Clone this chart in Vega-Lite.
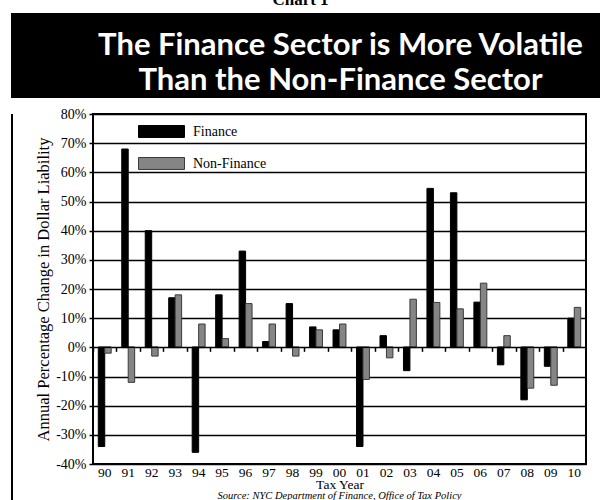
{
  "$schema": "https://vega.github.io/schema/vega-lite/v6.json",
  "padding": {"left": 11, "top": -9, "right": 0, "bottom": 0},
  "background": "white",
  "spacing": 8,
  "title": {"text": "Chart 1", "font": "Liberation Serif", "fontWeight": "bold", "fontSize": 17, "color": "black", "anchor": "middle", "offset": 4, "dx": -5},
  "config": {"view": {"stroke": null}, "font": "Liberation Serif"},
  "resolve": {"legend": {"color": "independent", "stroke": "independent"}},
  "datasets": {
    "bars": [
      {"year": "90", "series": "Finance", "value": -34},
      {"year": "91", "series": "Finance", "value": 68},
      {"year": "92", "series": "Finance", "value": 40},
      {"year": "93", "series": "Finance", "value": 17},
      {"year": "94", "series": "Finance", "value": -36},
      {"year": "95", "series": "Finance", "value": 18},
      {"year": "96", "series": "Finance", "value": 33},
      {"year": "97", "series": "Finance", "value": 2},
      {"year": "98", "series": "Finance", "value": 15},
      {"year": "99", "series": "Finance", "value": 7},
      {"year": "00", "series": "Finance", "value": 6},
      {"year": "01", "series": "Finance", "value": -34},
      {"year": "02", "series": "Finance", "value": 4},
      {"year": "03", "series": "Finance", "value": -8},
      {"year": "04", "series": "Finance", "value": 54.5},
      {"year": "05", "series": "Finance", "value": 53},
      {"year": "06", "series": "Finance", "value": 15.5},
      {"year": "07", "series": "Finance", "value": -6},
      {"year": "08", "series": "Finance", "value": -18},
      {"year": "09", "series": "Finance", "value": -6.5},
      {"year": "10", "series": "Finance", "value": 10},
      {"year": "90", "series": "Non-Finance", "value": -2},
      {"year": "91", "series": "Non-Finance", "value": -12},
      {"year": "92", "series": "Non-Finance", "value": -3},
      {"year": "93", "series": "Non-Finance", "value": 18},
      {"year": "94", "series": "Non-Finance", "value": 8},
      {"year": "95", "series": "Non-Finance", "value": 3},
      {"year": "96", "series": "Non-Finance", "value": 15},
      {"year": "97", "series": "Non-Finance", "value": 8},
      {"year": "98", "series": "Non-Finance", "value": -3},
      {"year": "99", "series": "Non-Finance", "value": 6},
      {"year": "00", "series": "Non-Finance", "value": 8},
      {"year": "01", "series": "Non-Finance", "value": -11},
      {"year": "02", "series": "Non-Finance", "value": -3.6},
      {"year": "03", "series": "Non-Finance", "value": 16.5},
      {"year": "04", "series": "Non-Finance", "value": 15.4},
      {"year": "05", "series": "Non-Finance", "value": 13.2},
      {"year": "06", "series": "Non-Finance", "value": 22},
      {"year": "07", "series": "Non-Finance", "value": 4},
      {"year": "08", "series": "Non-Finance", "value": -14},
      {"year": "09", "series": "Non-Finance", "value": -13},
      {"year": "10", "series": "Non-Finance", "value": 13.7}
    ]
  },
  "vconcat": [
    {
      "width": 589,
      "height": 85,
      "view": {"fill": "black", "stroke": null},
      "data": {"values": [
        {"line": 1, "text": "The Finance Sector is More Volatile"},
        {"line": 2, "text": "Than the Non-Finance Sector"}
      ]},
      "mark": {"type": "text", "color": "white", "font": "Lato", "fontWeight": "bold", "fontSize": 31, "dx": 35, "dy": 8, "baseline": "middle", "align": "center"},
      "encoding": {
        "y": {"field": "line", "type": "ordinal", "axis": null, "scale": {"padding": 0.7}},
        "text": {"field": "text"}
      }
    },
    {
      "spacing": 21,
      "resolve": {"legend": {"color": "independent", "stroke": "independent"}},
      "hconcat": [
        {
          "width": 2,
          "height": 395,
          "view": {"fill": "black", "stroke": null},
          "data": {"values": []},
          "mark": "point",
          "encoding": {}
        },
        {
          "width": 493,
          "height": 350,
          "data": {"name": "bars"},
          "view": {"stroke": "black", "strokeWidth": 2},
          "title": {"text": "Source: NYC Department of Finance, Office of Tax Policy", "orient": "bottom", "anchor": "middle", "font": "Liberation Serif", "fontStyle": "italic", "fontWeight": "normal", "fontSize": 10.5, "color": "black", "offset": 0},
          "layer": [
            {
              "mark": {"type": "bar", "strokeWidth": 1},
              "encoding": {
                "x": {
                  "field": "year", "type": "ordinal",
                  "sort": ["90","91","92","93","94","95","96","97","98","99","00","01","02","03","04","05","06","07","08","09","10"],
                  "scale": {"paddingInner": 0.45, "paddingOuter": 0.225},
                  "axis": {"title": "Tax Year", "labelAngle": 0, "ticks": false, "domain": false, "grid": false, "labelFont": "Liberation Serif", "labelFontSize": 13.5, "labelColor": "black", "labelPadding": 1, "titleFont": "Liberation Serif", "titleFontSize": 13.5, "titleFontWeight": "normal", "titleColor": "black", "titlePadding": -1}
                },
                "xOffset": {"field": "series", "type": "nominal", "sort": ["Finance", "Non-Finance"], "scale": {"paddingInner": 0, "paddingOuter": 0}},
                "y": {
                  "field": "value", "type": "quantitative",
                  "scale": {"domain": [-40, 80], "nice": false, "zero": false},
                  "axis": {"values": [-40,-30,-20,-10,0,10,20,30,40,50,60,70,80], "tickCount": 13, "labelOverlap": false, "labelExpr": "datum.value + '%'", "title": "Annual Percentage Change in Dollar Liability", "titleFont": "Liberation Serif", "titleFontSize": 16.5, "titleFontWeight": "normal", "titleColor": "black", "titlePadding": 4, "labelFont": "Liberation Serif", "labelFontSize": 14, "labelColor": "black", "labelPadding": 3, "tickSize": 4, "tickColor": "black", "tickWidth": 1.5, "domain": false, "grid": true, "gridColor": "black", "gridWidth": 1.5, "gridOpacity": 1}
                },
                "color": {
                  "field": "series", "type": "nominal",
                  "scale": {"domain": ["Finance", "Non-Finance"], "range": ["#000000", "#858585"]},
                  "legend": {"title": null, "orient": "none", "legendX": 45, "legendY": -6, "symbolType": "M-1,-0.26H1V0.26H-1Z", "symbolSize": 2116, "symbolStrokeWidth": 1, "labelFont": "Liberation Serif", "labelFontSize": 14, "labelColor": "black", "labelOffset": 8, "rowPadding": -28, "padding": 0}
                },
                "stroke": {
                  "field": "series", "type": "nominal",
                  "scale": {"domain": ["Finance", "Non-Finance"], "range": ["#000000", "#3a3a3a"]},
                  "legend": {"title": null, "orient": "none", "legendX": 45, "legendY": -6, "symbolType": "M-1,-0.26H1V0.26H-1Z", "symbolSize": 2116, "symbolStrokeWidth": 1, "labelFont": "Liberation Serif", "labelFontSize": 14, "labelColor": "black", "labelOffset": 8, "rowPadding": -28, "padding": 0}
                }
              }
            },
            {
              "transform": [{"filter": "datum.series === 'Finance'"}],
              "mark": {"type": "rule", "color": "black", "strokeWidth": 1.5},
              "encoding": {
                "x": {
                  "field": "year", "type": "ordinal",
                  "sort": ["90","91","92","93","94","95","96","97","98","99","00","01","02","03","04","05","06","07","08","09","10"],
                  "bandPosition": 0,
                  "axis": {"orient": "bottom", "offset": -116.67, "labels": false, "title": null, "domain": false, "grid": false, "ticks": true, "tickSize": 4, "tickColor": "black", "tickWidth": 1.5, "bandPosition": 0, "tickOffset": -5.28}
                },
                "x2": {"field": "year", "bandPosition": 1},
                "y": {
                  "datum": 0, "type": "quantitative",
                  "axis": {"values": [-40,-30,-20,-10,0,10,20,30,40,50,60,70,80], "tickCount": 13, "labelOverlap": false, "labelExpr": "datum.value + '%'", "title": "Annual Percentage Change in Dollar Liability", "titleFont": "Liberation Serif", "titleFontSize": 16.5, "titleFontWeight": "normal", "titleColor": "black", "titlePadding": 4, "labelFont": "Liberation Serif", "labelFontSize": 14, "labelColor": "black", "labelPadding": 3, "tickSize": 4, "tickColor": "black", "tickWidth": 1.5, "domain": false, "grid": true, "gridColor": "black", "gridWidth": 1.5, "gridOpacity": 1}
                }
              }
            }
          ],
          "resolve": {"axis": {"x": "independent"}}
        }
      ]
    }
  ]
}
